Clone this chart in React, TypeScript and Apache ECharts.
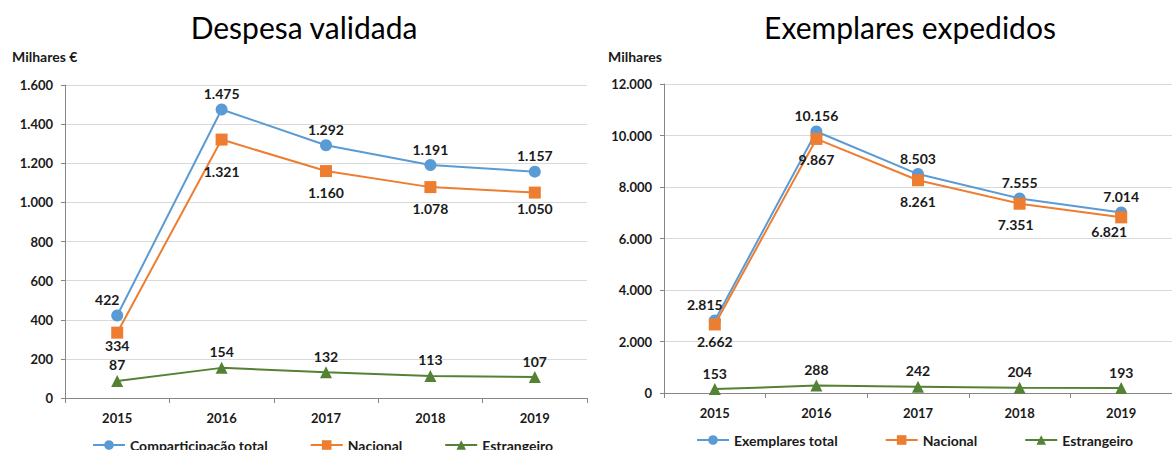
import React, { useEffect, useRef } from "react";
import * as echarts from "echarts";

const years = ["2015", "2016", "2017", "2018", "2019"];

// Despesa validada (milhares €)
const despTotal = [422, 1475, 1292, 1191, 1157];
const despNacional = [334, 1321, 1160, 1078, 1050];
const despEstrangeiro = [87, 154, 132, 113, 107];

// Exemplares expedidos (milhares)
const exTotal = [2815, 10156, 8503, 7555, 7014];
const exNacional = [2662, 9867, 8261, 7351, 6821];
const exEstrangeiro = [153, 288, 242, 204, 193];

const leftTicks = { min: 0, max: 1600, interval: 200 };
const rightTicks = { min: 0, max: 12000, interval: 2000 };

// label nudges (style only), per point
const despTotalNudge: (number[] | null)[] = [[-10, 0], null, null, null, null];
const despNacNudge: (number[] | null)[] = [[0, -8], [0, 11], null, null, [0, -5]];
const exTotalNudge: (number[] | null)[] = [[-10, 0], null, null, null, null];
const exNacNudge: (number[] | null)[] = [[0, -4], null, null, [-4, 0], [-12, -7]];

const BLUE = "#5B9BD5";
const ORANGE = "#ED7D31";
const GREEN = "#548235";
const FONT = "Lato, 'Open Sans', sans-serif";

const fmt = (v: number) => {
  const s = Math.round(v).toString();
  return s.replace(/\B(?=(\d{3})+(?!\d))/g, ".");
};

const labelStyle = (position: string, distance: number) => ({
  show: true,
  position,
  distance,
  fontFamily: FONT,
  fontWeight: "bold",
  fontSize: 14,
  color: "#1a1a1a",
  formatter: (p: any) => fmt(p.value),
});

const withNudge = (vals: number[], nudge?: (number[] | null)[]) =>
  vals.map((v, i) =>
    nudge && nudge[i] ? { value: v, label: { offset: nudge[i] } } : { value: v }
  );

function makeSeries(
  idx: number,
  names: string[],
  data: number[][],
  nudges: ((number[] | null)[] | undefined)[]
) {
  const [tot, nac, est] = data;
  return [
    {
      name: names[0],
      type: "line",
      xAxisIndex: idx,
      yAxisIndex: idx,
      data: withNudge(tot, nudges[0]),
      symbol: "circle",
      symbolSize: 12,
      itemStyle: { color: BLUE },
      lineStyle: { color: BLUE, width: 2 },
      label: labelStyle("top", 3),
      z: 3,
    },
    {
      name: names[1],
      type: "line",
      xAxisIndex: idx,
      yAxisIndex: idx,
      data: withNudge(nac, nudges[1]),
      symbol: "rect",
      symbolSize: 12,
      itemStyle: { color: ORANGE },
      lineStyle: { color: ORANGE, width: 2 },
      label: labelStyle("bottom", 8),
      z: 4,
    },
    {
      name: names[2],
      type: "line",
      xAxisIndex: idx,
      yAxisIndex: idx,
      data: withNudge(est, nudges[2]),
      symbol: "triangle",
      symbolSize: 12,
      itemStyle: { color: GREEN },
      lineStyle: { color: GREEN, width: 2 },
      label: labelStyle("top", 3),
      z: 3,
    },
  ];
}

const xAxisBase = (gridIndex: number) => ({
  type: "category",
  gridIndex,
  data: years,
  boundaryGap: true,
  axisLine: { lineStyle: { color: "#868686", width: 1 } },
  axisTick: { show: true, inside: false, length: 5, lineStyle: { color: "#868686" } },
  axisLabel: {
    fontFamily: FONT,
    fontWeight: "bold",
    fontSize: 13,
    color: "#1a1a1a",
    margin: 13,
  },
});

const yAxisBase = (gridIndex: number, t: { min: number; max: number; interval: number }) => ({
  type: "value",
  gridIndex,
  min: t.min,
  max: t.max,
  interval: t.interval,
  axisLine: { show: true, lineStyle: { color: "#868686", width: 1 } },
  axisTick: { show: true, inside: false, length: 4, lineStyle: { color: "#868686" } },
  splitLine: { show: true, lineStyle: { color: "#d9d9d9", width: 1 } },
  axisLabel: {
    fontFamily: FONT,
    fontWeight: "bold",
    fontSize: 13,
    color: "#1a1a1a",
    margin: 12,
    formatter: (v: number) => fmt(v),
  },
});

export default function App() {
  const ref = useRef<HTMLDivElement>(null);

  useEffect(() => {
    if (!ref.current) return;
    const chart = echarts.init(ref.current, undefined, { renderer: "svg" });
    const leftNames = ["Comparticipação total", "Nacional", "Estrangeiro"];
    const rightNames = ["Exemplares total", "Nacional", "Estrangeiro"];
    const legendText = {
      fontFamily: FONT,
      fontWeight: "bold",
      fontSize: 14,
      color: "#1a1a1a",
    };
    chart.setOption({
      animation: false,
      backgroundColor: "#ffffff",
      title: [
        {
          text: "Despesa validada",
          left: 299,
          top: 7,
          textAlign: "center",
          textStyle: { fontFamily: FONT, fontSize: 30, fontWeight: "normal", color: "#000" },
        },
        {
          text: "Exemplares expedidos",
          left: 905,
          top: 7,
          textAlign: "center",
          textStyle: { fontFamily: FONT, fontSize: 30, fontWeight: "normal", color: "#000" },
        },
      ],
      graphic: [
        {
          type: "text",
          left: 12,
          top: 49,
          style: { text: "Milhares €", font: `bold 14px ${FONT}`, fill: "#1a1a1a" },
        },
        {
          type: "text",
          left: 608,
          top: 49,
          style: { text: "Milhares", font: `bold 14px ${FONT}`, fill: "#1a1a1a" },
        },
      ],
      legend: [
        {
          data: leftNames,
          left: 92,
          top: 438,
          width: 600,
          padding: 0,
          itemWidth: 32,
          itemHeight: 12,
          itemGap: 42,
          textStyle: legendText,
        },
        {
          data: rightNames,
          left: 696,
          top: 433,
          width: 600,
          padding: 0,
          itemWidth: 32,
          itemHeight: 12,
          itemGap: 47,
          textStyle: legendText,
        },
      ],
      grid: [
        { left: 65, top: 85, width: 522, height: 313 },
        { left: 664, top: 84, width: 516, height: 309 },
      ],
      xAxis: [xAxisBase(0), xAxisBase(1)],
      yAxis: [yAxisBase(0, leftTicks), yAxisBase(1, rightTicks)],
      series: [
        ...makeSeries(0, leftNames, [despTotal, despNacional, despEstrangeiro], [despTotalNudge, despNacNudge, undefined]),
        ...makeSeries(1, rightNames, [exTotal, exNacional, exEstrangeiro], [exTotalNudge, exNacNudge, undefined]),
      ],
    });
    return () => chart.dispose();
  }, []);

  return (
    <div
      ref={ref}
      style={{ position: "fixed", left: 0, top: 0, width: 1172, height: 450 }}
    />
  );
}
